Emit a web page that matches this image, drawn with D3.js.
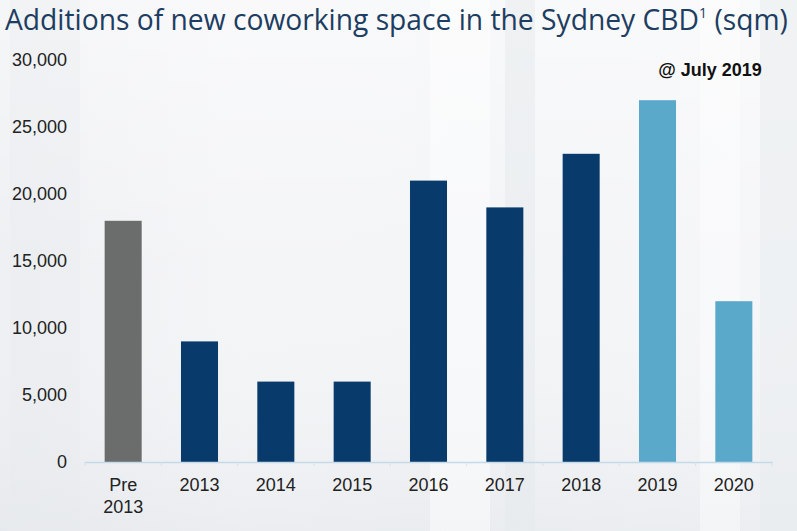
<!DOCTYPE html>
<html>
<head>
<meta charset="utf-8">
<script src="https://cdn.jsdelivr.net/npm/d3@7"></script>
<style>
  html, body { margin: 0; padding: 0; background: #f1f3f5; }
  svg { display: block; }
</style>
</head>
<body>
<svg id="chart" width="797" height="531"></svg>
<script>
// ---- data ----
const categories = ["Pre\n2013", "2013", "2014", "2015", "2016", "2017", "2018", "2019", "2020"];
const values = [18000, 9000, 6000, 6000, 21000, 19000, 23000, 27000, 12000];
const barGroup = ["pre", "actual", "actual", "actual", "actual", "actual", "actual", "forecast", "forecast"];
const yTicks = [0, 5000, 10000, 15000, 20000, 25000, 30000];
const titleText = "Additions of new coworking space in the Sydney CBD";
const noteText = "@ July 2019";

const colors = { pre: "#6b6c6c", actual: "#083a6b", forecast: "#5aa9cb" };

const W = 797, H = 531;
const svg = d3.select("#chart");

// ---- background (faded photo impression) ----
const defs = svg.append("defs");
const g1 = defs.append("linearGradient").attr("id", "bg").attr("x1", 0).attr("x2", 1).attr("y1", 0).attr("y2", 0);
g1.append("stop").attr("offset", "0%").attr("stop-color", "#eceef1");
g1.append("stop").attr("offset", "30%").attr("stop-color", "#f3f4f6");
g1.append("stop").attr("offset", "60%").attr("stop-color", "#f1f3f5");
g1.append("stop").attr("offset", "100%").attr("stop-color", "#f4f5f7");
svg.append("rect").attr("width", W).attr("height", H).attr("fill", "url(#bg)");
const g2 = defs.append("linearGradient").attr("id", "bgv").attr("x1", 0).attr("x2", 0).attr("y1", 0).attr("y2", 1);
g2.append("stop").attr("offset", "0%").attr("stop-color", "#ffffff").attr("stop-opacity", 0.5);
g2.append("stop").attr("offset", "50%").attr("stop-color", "#ffffff").attr("stop-opacity", 0.1);
g2.append("stop").attr("offset", "100%").attr("stop-color", "#dfe3e7").attr("stop-opacity", 0.4);
svg.append("rect").attr("width", W).attr("height", H).attr("fill", "url(#bgv)");
// faint vertical building shapes
[[430, 60, "#ffffff", 0.45], [505, 30, "#e6e9ec", 0.5], [700, 40, "#ffffff", 0.4], [760, 37, "#e8ebee", 0.5], [10, 70, "#e9ecef", 0.35]]
  .forEach(d => svg.append("rect").attr("x", d[0]).attr("y", 0).attr("width", d[1]).attr("height", H)
    .attr("fill", d[2]).attr("opacity", d[3]));

// ---- scales ----
const x = d3.scaleBand().domain(categories).range([85, 772]).paddingInner(0.515).paddingOuter(0.2575);
const y = d3.scaleLinear().domain([0, 30000]).range([462, 60]);

// ---- title ----
const title = svg.append("text")
  .attr("x", 5).attr("y", 30)
  .attr("font-family", "'Open Sans', 'DejaVu Sans', sans-serif")
  .attr("font-weight", 500)
  .attr("font-size", 24)
  .attr("fill", "#1d3d61");
title.append("tspan").text(titleText);
title.append("tspan").attr("font-size", 12).attr("dy", -10).text("1");
title.append("tspan").attr("dy", 10).text(" (sqm)");
// fit width
const tw = title.node().getComputedTextLength();
const target = 783;
const fs = 24 * target / tw;
title.attr("font-size", fs);
title.select("tspan:nth-child(2)").attr("font-size", fs * 0.5).attr("dy", -fs * 0.42);
title.select("tspan:nth-child(3)").attr("dy", fs * 0.42);

// ---- y axis labels ----
svg.append("g").selectAll("text").data(yTicks).join("text")
  .attr("x", 67).attr("y", d => y(d)).attr("dy", "0.35em")
  .attr("text-anchor", "end")
  .attr("font-family", "'Liberation Sans', Arial, sans-serif")
  .attr("font-size", 18).attr("fill", "#222")
  .text(d => d3.format(",")(d));

// ---- bars ----
svg.append("g").selectAll("rect").data(categories).join("rect")
  .attr("x", d => x(d))
  .attr("width", x.bandwidth())
  .attr("y", (d, i) => y(values[i]))
  .attr("height", (d, i) => y(0) - y(values[i]))
  .attr("fill", (d, i) => colors[barGroup[i]]);

// ---- x axis ----
const xAxisG = svg.append("g");
xAxisG.append("line").attr("x1", 85).attr("x2", 773).attr("y1", y(0) + 0.5).attr("y2", y(0) + 0.5)
  .attr("stroke", "#c4dae9").attr("stroke-width", 1.5);
const bounds = categories.map(c => x(c) - x.step() * x.paddingInner() / 2).concat([772]);
xAxisG.selectAll("line.tk").data(bounds).join("line").attr("class", "tk")
  .attr("x1", d => d).attr("x2", d => d).attr("y1", y(0)).attr("y2", y(0) + 4)
  .attr("stroke", "#d2e2ee").attr("stroke-width", 1);

const xl = svg.append("g").selectAll("text").data(categories).join("text")
  .attr("x", d => x(d) + x.bandwidth() / 2)
  .attr("y", 491)
  .attr("text-anchor", "middle")
  .attr("font-family", "'Liberation Sans', Arial, sans-serif")
  .attr("font-size", 18).attr("fill", "#222");
xl.each(function(d) {
  const lines = d.split("\n");
  d3.select(this).selectAll("tspan").data(lines).join("tspan")
    .attr("x", x(d) + x.bandwidth() / 2)
    .attr("dy", (l, i) => i === 0 ? 0 : 22)
    .text(l => l);
});

// ---- note ----
svg.append("text")
  .attr("x", 710).attr("y", 76)
  .attr("text-anchor", "middle")
  .attr("font-family", "'Liberation Sans', Arial, sans-serif")
  .attr("font-weight", "bold")
  .attr("font-size", 18).attr("fill", "#111")
  .text(noteText);
</script>
</body>
</html>
